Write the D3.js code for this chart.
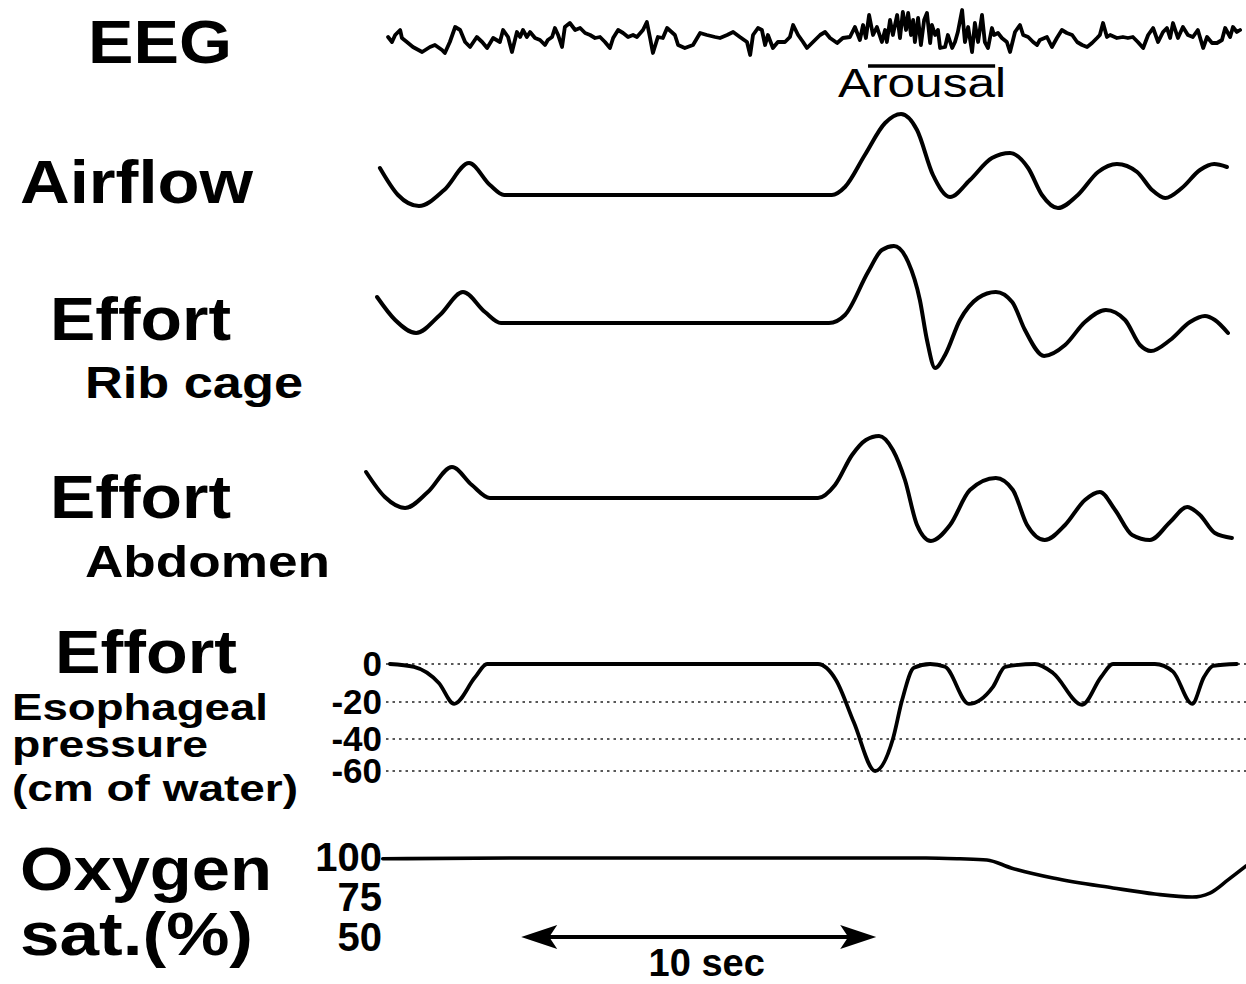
<!DOCTYPE html>
<html><head><meta charset="utf-8">
<script src="https://cdn.jsdelivr.net/npm/d3@7"></script>
<style>
html,body{margin:0;padding:0;background:#fff;}
svg{display:block;}
text{font-family:"Liberation Sans",Arial,Helvetica,sans-serif;font-weight:bold;fill:#000;}
</style></head><body>
<svg id="chart" width="1246" height="984"></svg>
<script>
// ---------------- DATA (time in seconds) ----------------
const eegTime = [0.65,0.76,0.85,0.99,1.04,1.18,1.35,1.61,1.83,1.97,2.17,2.25,2.39,2.54,2.68,2.82,2.96,3.15,3.30,3.44,
  3.61,3.80,3.89,4.03,4.14,4.28,4.37,4.45,4.56,4.65,4.79,4.93,5.07,5.15,5.27,5.35,5.44,5.55,5.63,5.77,
  5.92,6.06,6.20,6.34,6.48,6.62,6.76,6.90,6.99,7.13,7.27,7.41,7.55,7.66,7.83,7.94,8.03,8.11,8.25,8.39,
  8.51,8.73,8.82,9.01,9.24,9.44,9.63,9.86,10.00,10.20,10.37,10.56,10.76,10.85,10.93,11.07,11.18,11.27,11.35,11.49,
  11.63,11.83,11.97,12.06,12.20,12.34,12.45,12.62,12.82,12.96,13.10,13.30,13.46,13.66,13.80,13.94,14.03,14.11,14.20,14.31,
  14.42,14.56,14.65,14.70,14.79,14.87,14.99,15.07,15.15,15.24,15.30,15.38,15.44,15.49,15.58,15.66,15.75,15.83,15.92,15.97,
  16.06,16.14,16.20,16.34,16.42,16.54,16.62,16.70,16.82,16.90,16.99,17.10,17.18,17.27,17.38,17.46,17.55,17.66,17.72,17.83,
  17.94,18.08,18.17,18.31,18.45,18.54,18.68,18.82,18.93,19.01,19.21,19.35,19.49,19.63,19.77,19.92,20.06,20.20,20.34,20.48,
  20.62,20.70,20.79,20.90,20.99,21.18,21.35,21.49,21.63,21.77,21.92,22.06,22.20,22.34,22.48,22.59,22.68,22.76,22.90,23.04,
  23.18,23.32,23.46,23.61,23.72,23.86,24.00,24.14,24.23,24.37,24.45,24.56,24.65];
const eegValue = [3,-2,5,10,2,-2,-7,-12,-7,-5,-10,-13,-2,13,10,-2,-7,3,-2,-8,
  2,-2,10,3,-12,8,3,10,3,8,2,0,-5,0,3,12,5,-7,13,17,
  10,12,7,5,2,3,-2,-8,2,10,7,3,5,3,10,18,2,-13,3,2,
  12,5,-5,-8,-5,7,5,3,2,5,8,3,-2,-15,5,12,10,-5,5,-8,
  -2,-2,3,15,5,-2,-8,-2,5,8,2,-3,2,3,13,0,15,2,25,5,
  13,-2,10,-2,20,5,25,2,28,10,27,5,20,-2,22,-5,20,27,-3,15,
  5,10,-8,-7,5,-8,-2,8,30,-2,13,-12,17,-2,25,-2,-8,12,5,7,
  2,-2,-12,8,15,5,3,-2,-5,0,3,-7,2,10,7,5,-2,-5,-7,-3,
  2,5,17,3,5,2,3,2,3,-2,-8,5,12,-2,8,12,2,17,2,13,
  5,3,10,-8,3,-3,-3,0,12,3,13,8,10];
const arousalStart = 14.17, arousalEnd = 17.75;

const airflowTime  = [0.42,0.93,1.52,2.23,2.93,3.52,3.92,13.15,13.52,14.08,14.65,15.10,15.55,16.00,16.48,17.04,17.66,18.17,18.68,19.07,19.52,20.08,20.65,21.18,21.75,22.17,22.54,23.01,23.52,23.92,24.28];
const airflowValue = [27,0,-11,5,32,10,0,0,8,40,72,81,65,20,-2,15,37,42,27,0,-13,0,23,31,23,5,-3,7,25,31,28];

const ribTime  = [0.34,0.85,1.44,2.11,2.76,3.38,3.83,13.07,13.52,14.17,14.56,14.90,15.30,15.63,15.83,16.06,16.34,16.76,17.27,17.77,18.23,18.59,19.13,19.72,20.28,20.87,21.41,21.83,22.14,22.68,23.24,23.66,23.94,24.31];
const ribValue = [26,3,-10,8,31,11,0,0,8,51,73,77,61,23,-17,-45,-32,3,25,31,21,-7,-33,-22,1,13,3,-22,-28,-17,1,7,3,-10];

const abdTime  = [0.03,0.56,1.13,1.77,2.45,3.01,3.52,12.76,13.24,13.72,14.11,14.48,14.87,15.21,15.55,15.94,16.48,17.04,17.77,18.25,18.65,19.15,19.72,20.28,20.70,21.13,21.61,22.11,22.68,23.16,23.52,23.94,24.42];
const abdValue = [26,1,-10,6,31,13,0,0,13,43,58,62,48,18,-27,-43,-27,8,20,8,-27,-42,-27,-2,6,-12,-37,-42,-24,-9,-17,-35,-40];

const esoTime  = [0.70,1.38,2.08,2.51,3.10,3.44,12.76,13.27,13.77,14.37,14.87,15.13,15.46,15.92,16.34,17.01,17.69,18.03,18.87,19.38,20.20,20.73,21.07,22.25,22.76,23.30,23.63,23.89,24.56];
const esoValue = [0,-1.5,-10,-21,-7,0,0,-8.5,-31,-60,-40,-19,-2,0,-1.5,-21,-12,-1.5,0,-4.7,-21.5,-7,0,0,-4,-21,-7,-1,0];
const esoTicks = [0,-20,-40,-60];

const o2Time  = [0.50,4.20,15.80,16.76,17.52,18.20,19.38,21.07,22.25,23.30,23.80,24.31,24.82];
const o2Value = [99.5,100,100,99.5,98.8,93.8,87.5,81.3,77.5,75.6,78.1,86.3,95];
const o2Ticks = [100,75,50];

const scaleBarStart = 4.4, scaleBarSeconds = 10;

// ---------------- LAYOUT ----------------
const svg = d3.select("#chart");
svg.append("rect").attr("width",1246).attr("height",984).attr("fill","#fff");

const x = d3.scaleLinear().domain([0,25]).range([365,1252.5]);

const yEEG = d3.scaleLinear().domain([-30,30]).range([70,10]);
const yAir = d3.scaleLinear().domain([-20,80]).range([215,115]);
const yRib = d3.scaleLinear().domain([-50,80]).range([373,243]);
const yAbd = d3.scaleLinear().domain([-50,70]).range([548,428]);
const yEso = d3.scaleLinear().domain([0,-20,-40,-60]).range([664,702,739,771]);
const yO2  = d3.scaleLinear().domain([50,100]).range([938,858]);

const zip = (ts,vs) => ts.map((t,i)=>({t, v: vs[i]}));

function trace(ts, vs, yScale, curve, width){
  const line = d3.line().x(d=>x(d.t)).y(d=>yScale(d.v)).curve(curve);
  svg.append("path").datum(zip(ts,vs))
    .attr("d", line).attr("fill","none").attr("stroke","#000")
    .attr("stroke-width", width).attr("stroke-linejoin","round").attr("stroke-linecap","round");
}

// Esophageal dotted grid lines
svg.append("g").selectAll("line").data(esoTicks).join("line")
  .attr("x1", 386).attr("x2", 1246)
  .attr("y1", d=>yEso(d)).attr("y2", d=>yEso(d))
  .attr("stroke","#222").attr("stroke-width",1.6).attr("stroke-dasharray","2.5,4");

trace(eegTime, eegValue, yEEG, d3.curveLinear, 3.8);
trace(airflowTime, airflowValue, yAir, d3.curveMonotoneX, 4);
trace(ribTime, ribValue, yRib, d3.curveMonotoneX, 4);
trace(abdTime, abdValue, yAbd, d3.curveMonotoneX, 4);
trace(esoTime, esoValue, yEso, d3.curveMonotoneX, 3.8);
trace(o2Time, o2Value, yO2, d3.curveMonotoneX, 3.6);

// Arousal bar + label
svg.append("line").attr("x1", x(arousalStart)).attr("x2", x(arousalEnd))
  .attr("y1", 66).attr("y2", 66).attr("stroke","#000").attr("stroke-width",3.5);
svg.append("text").attr("x", 838).attr("y", 97).attr("font-size", 40)
  .style("font-weight","normal")
  .attr("textLength", 168).attr("lengthAdjust","spacingAndGlyphs").text("Arousal");

// Axes
const esoAxis = d3.axisLeft(yEso).tickValues(esoTicks).tickSize(0).tickPadding(2).tickFormat(d=>String(d));
const ga = svg.append("g").attr("transform","translate(384,0)").call(esoAxis);
ga.select(".domain").remove();
ga.selectAll("text").attr("font-size",35).attr("fill","#000").style("font-family",'"Liberation Sans",Arial,sans-serif').style("font-weight","bold");

const o2Axis = d3.axisLeft(yO2).tickValues(o2Ticks).tickSize(0).tickPadding(2).tickFormat(d=>String(d));
const gb = svg.append("g").attr("transform","translate(384,0)").call(o2Axis);
gb.select(".domain").remove();
gb.selectAll("text").attr("font-size",40).attr("fill","#000").style("font-family",'"Liberation Sans",Arial,sans-serif').style("font-weight","bold");

// Scale bar arrow
const ax1 = x(scaleBarStart), ax2 = x(scaleBarStart + scaleBarSeconds), ay = 937;
svg.append("line").attr("x1", ax1+20).attr("x2", ax2-20).attr("y1", ay).attr("y2", ay)
  .attr("stroke","#000").attr("stroke-width",4);
svg.append("path").attr("d", `M${ax1},${ay} L${ax1+36},${ay-12} L${ax1+28},${ay} L${ax1+36},${ay+12} Z`).attr("fill","#000");
svg.append("path").attr("d", `M${ax2},${ay} L${ax2-36},${ay-12} L${ax2-28},${ay} L${ax2-36},${ay+12} Z`).attr("fill","#000");
svg.append("text").attr("x", (ax1+ax2)/2 + 8).attr("y", 976).attr("text-anchor","middle")
  .attr("font-size", 38).text("10 sec");

// Left labels
const labels = [
  {t:"EEG", x:88, y:63, s:62, w:144},
  {t:"Airflow", x:20, y:203, s:62, w:233},
  {t:"Effort", x:50, y:340, s:62, w:181},
  {t:"Rib cage", x:85, y:398, s:44, w:218},
  {t:"Effort", x:50, y:518, s:62, w:181},
  {t:"Abdomen", x:85, y:577, s:44, w:245},
  {t:"Effort", x:55, y:673, s:62, w:182},
  {t:"Esophageal", x:12, y:720, s:37, w:256},
  {t:"pressure", x:12, y:757, s:37, w:196},
  {t:"(cm of water)", x:12, y:801, s:37, w:286},
  {t:"Oxygen", x:20, y:890, s:62, w:252},
  {t:"sat.(%)", x:20, y:955, s:62, w:233}
];
svg.append("g").selectAll("text").data(labels).join("text")
  .attr("x", d=>d.x).attr("y", d=>d.y).attr("font-size", d=>d.s)
  .attr("textLength", d=>d.w).attr("lengthAdjust","spacingAndGlyphs")
  .text(d=>d.t);
</script>
</body></html>
